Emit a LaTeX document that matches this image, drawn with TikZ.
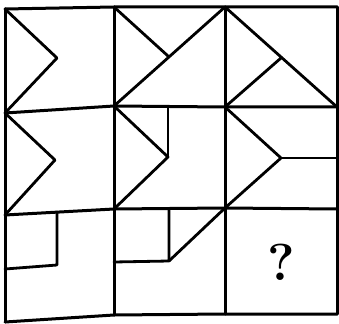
\documentclass[tikz,border=0pt]{standalone}
\begin{document}
\begin{tikzpicture}[x=1pt,y=-1pt,
  gridline/.style={line width=3pt, line join=round, line cap=round},
  figline/.style={line width=2.8pt, line join=round, line cap=round},
  qmark/.style={font=\fontsize{52}{60}\selectfont\bfseries, inner sep=0pt}]
\useasboundingbox (0,0) rectangle (339,323);
% grid corners
\coordinate (a00) at (5,9);   \coordinate (a01) at (114,7);   \coordinate (a02) at (225,7);   \coordinate (a03) at (337,7);
\coordinate (a10) at (5,113); \coordinate (a11) at (114,106); \coordinate (a12) at (225,107); \coordinate (a13) at (337,107);
\coordinate (a20) at (5,215); \coordinate (a21) at (114,209); \coordinate (a22) at (225,208); \coordinate (a23) at (337,209);
\coordinate (a30) at (5,322); \coordinate (a31) at (114,315); \coordinate (a32) at (225,314); \coordinate (a33) at (337,314);
% grid
\draw[gridline] (a00) -- (a01) -- (a02) -- (a03);
\draw[gridline] (a10) -- (a11) -- (a12) -- (a13);
\draw[gridline] (a20) -- (a21) -- (a22) -- (a23);
\draw[gridline] (a30) -- (a31) -- (a32) -- (a33);
\draw[gridline] (a00) -- (a10) -- (a20) -- (a30);
\draw[gridline] (a01) -- (a11) -- (a21) -- (a31);
\draw[gridline] (a02) -- (a12) -- (a22) -- (a32);
\draw[gridline] (a03) -- (a13) -- (a23) -- (a33);
% row 1
\coordinate (p11) at (57,58);
\draw[figline] (a00) -- (p11) -- (a10);
\coordinate (p12) at (168,56);
\draw[figline] (a01) -- (p12);
\draw[figline] (a11) -- (a02);
\coordinate (p13) at (281,58);
\draw[figline] (a02) -- (a13);
\draw[figline] (a12) -- (p13);
% row 2
\coordinate (p21) at (55,160);
\draw[figline] (a10) -- (p21) -- (a20);
\coordinate (p22) at (168,157);
\coordinate (t22) at (168,106.5);
\draw[figline] (a11) -- (p22) -- (a21);
\draw[figline] (t22) -- (p22);
\coordinate (p23) at (281,158);
\coordinate (r23) at (337,158);
\draw[figline] (a12) -- (p23) -- (a22);
\draw[figline] (p23) -- (r23);
% row 3
\coordinate (t31) at (57,212);
\coordinate (p31) at (57,265);
\coordinate (l31) at (5,269);
\draw[figline] (t31) -- (p31) -- (l31);
\coordinate (t32) at (169,209);
\coordinate (p32) at (169,261);
\coordinate (l32) at (114,262);
\draw[figline] (t32) -- (p32) -- (l32);
\draw[figline] (p32) -- (a22);
\node[qmark] (q) at (281,262) {?};
\end{tikzpicture}
\end{document}
